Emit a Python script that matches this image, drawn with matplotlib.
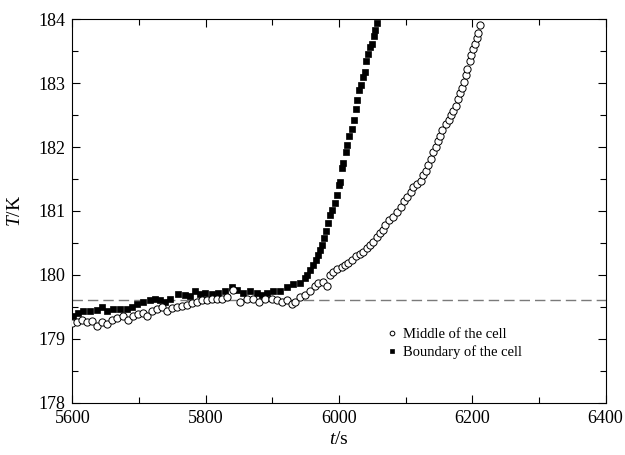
import matplotlib
matplotlib.use("Agg")
import matplotlib.pyplot as plt
from matplotlib.ticker import MultipleLocator

plt.rcParams["font.family"] = ["Liberation Serif", "DejaVu Serif"]
plt.rcParams["mathtext.fontset"] = "custom"
plt.rcParams["mathtext.rm"] = "Liberation Serif"
plt.rcParams["mathtext.it"] = "Liberation Serif:italic"

# boundary of the cell (filled squares)
t_boundary = [5601.5, 5609, 5616.5, 5626.5, 5636.5, 5644, 5651.5, 5661.5, 5671.5, 5681.5,
              5689, 5696.5, 5706.5, 5716.5, 5724, 5731.5, 5739, 5746.5, 5759, 5769,
              5776.5, 5784, 5791.5, 5799, 5809, 5819, 5829, 5839, 5846.5, 5856.5,
              5866.5, 5876.5, 5884, 5891.5, 5901.5, 5911.5, 5921.5, 5931.5, 5941.5, 5949,
              5951.5, 5956.5, 5961.5, 5965.5, 5969, 5971.5, 5974, 5977.5, 5980.5, 5983,
              5986.5, 5989, 5994, 5996.5, 5999.5, 6001.5, 6004.5, 6006.5, 6010, 6012.5,
              6015.5, 6019, 6022, 6025, 6027.5, 6030.5, 6033, 6036, 6038.5, 6041,
              6044, 6046.5, 6049.5, 6052, 6054.5, 6057]
T_boundary = [179.35, 179.40, 179.43, 179.44, 179.45, 179.49, 179.44, 179.46, 179.47, 179.46,
              179.49, 179.55, 179.58, 179.61, 179.62, 179.61, 179.58, 179.62, 179.70, 179.69,
              179.67, 179.74, 179.70, 179.71, 179.70, 179.71, 179.74, 179.81, 179.77, 179.72,
              179.74, 179.71, 179.69, 179.72, 179.74, 179.75, 179.81, 179.85, 179.88, 179.95,
              180.00, 180.08, 180.16, 180.23, 180.31, 180.39, 180.47, 180.57, 180.68, 180.81,
              180.94, 181.02, 181.12, 181.25, 181.41, 181.46, 181.67, 181.75, 181.93, 182.03,
              182.18, 182.29, 182.42, 182.59, 182.73, 182.89, 182.97, 183.09, 183.18, 183.35,
              183.46, 183.56, 183.62, 183.74, 183.84, 183.94]

# middle of the cell (open circles)
t_middle = [5600, 5606.5, 5614, 5621.5, 5629, 5637.5, 5644, 5651.5, 5659, 5666.5,
            5676.5, 5684, 5691.5, 5699, 5706.5, 5712.5, 5719, 5726.5, 5734, 5742.5,
            5749, 5756.5, 5764, 5771.5, 5779, 5786.5, 5794, 5801.5, 5809, 5816.5,
            5824, 5831.5, 5841.5, 5851.5, 5861.5, 5871.5, 5880.5, 5889, 5899, 5906.5,
            5914, 5922.5, 5929, 5934, 5941.5, 5949, 5956.5, 5964, 5969, 5976.5,
            5982.5, 5986.5, 5991.5, 5997.5, 6004, 6009, 6014, 6019, 6025.5, 6031.5,
            6036.5, 6041.5, 6046.5, 6051.5, 6056.5, 6061.5, 6066.5, 6069, 6075.5, 6081.5,
            6086.5, 6092.5, 6097.5, 6102.5, 6107.5, 6111.5, 6116.5, 6122.5, 6126.5, 6130.5,
            6134, 6137.5, 6141.5, 6145, 6148.5, 6151.5, 6155, 6160, 6165, 6168.5,
            6171.5, 6175, 6178.5, 6181.5, 6184, 6187.5, 6190, 6192.5, 6196, 6198.5,
            6201.5, 6204, 6206.5, 6209, 6211]
T_middle = [179.24, 179.27, 179.29, 179.27, 179.28, 179.20, 179.27, 179.23, 179.29, 179.32,
            179.36, 179.29, 179.35, 179.39, 179.40, 179.35, 179.43, 179.46, 179.49, 179.43,
            179.48, 179.50, 179.51, 179.53, 179.56, 179.57, 179.61, 179.61, 179.62, 179.63,
            179.63, 179.65, 179.76, 179.58, 179.62, 179.63, 179.57, 179.62, 179.63, 179.60,
            179.58, 179.60, 179.55, 179.58, 179.66, 179.69, 179.75, 179.82, 179.87, 179.89,
            179.83, 180.00, 180.05, 180.09, 180.13, 180.16, 180.18, 180.24, 180.30, 180.33,
            180.36, 180.42, 180.47, 180.52, 180.59, 180.65, 180.70, 180.78, 180.86, 180.91,
            180.99, 181.07, 181.15, 181.22, 181.30, 181.38, 181.43, 181.47, 181.56, 181.63,
            181.72, 181.82, 181.93, 182.00, 182.09, 182.17, 182.26, 182.36, 182.42, 182.50,
            182.57, 182.64, 182.75, 182.84, 182.93, 183.02, 183.13, 183.22, 183.35, 183.44,
            183.54, 183.62, 183.70, 183.78, 183.91]

T_ref = 179.6

fig = plt.figure(figsize=(6.25, 4.55), dpi=100)
ax = fig.add_axes([0.1157, 0.115, 0.8533, 0.8426])

ax.axhline(T_ref, color="#7a7a7a", lw=1.0, dashes=(7.5, 3.6), zorder=1)
ax.plot(t_boundary, T_boundary, "s", color="black", ms=4.8, mec="black", mew=0.5,
        label="Boundary of the cell", zorder=2)
ax.plot(t_middle, T_middle, "o", mfc="white", mec="black", ms=5.2, mew=0.7,
        label="Middle of the cell", zorder=3)

ax.set_xlim(5600, 6400)
ax.set_ylim(178, 184)
ax.xaxis.set_major_locator(MultipleLocator(200))
ax.xaxis.set_minor_locator(MultipleLocator(100))
ax.yaxis.set_major_locator(MultipleLocator(1))
ax.yaxis.set_minor_locator(MultipleLocator(0.5))
ax.tick_params(which="both", direction="in", top=True, right=True, width=0.8,
               labelsize=13, pad=5)
ax.tick_params(which="major", length=6)
ax.tick_params(which="minor", length=4.5)
for s in ax.spines.values():
    s.set_linewidth(0.8)

ax.set_xlabel("$t$/s", fontsize=14, labelpad=3)
ax.set_ylabel("$T$/K", fontsize=14, labelpad=10)

handles, labels = ax.get_legend_handles_labels()
ax.legend(handles[::-1], labels[::-1], loc="upper left", bbox_to_anchor=(0.592, 0.195),
          frameon=False, fontsize=10.5, handlelength=0.6, handletextpad=0.45,
          borderpad=0, borderaxespad=0, labelspacing=0.3, markerscale=0.65)

fig.savefig("out.png", dpi=100)
